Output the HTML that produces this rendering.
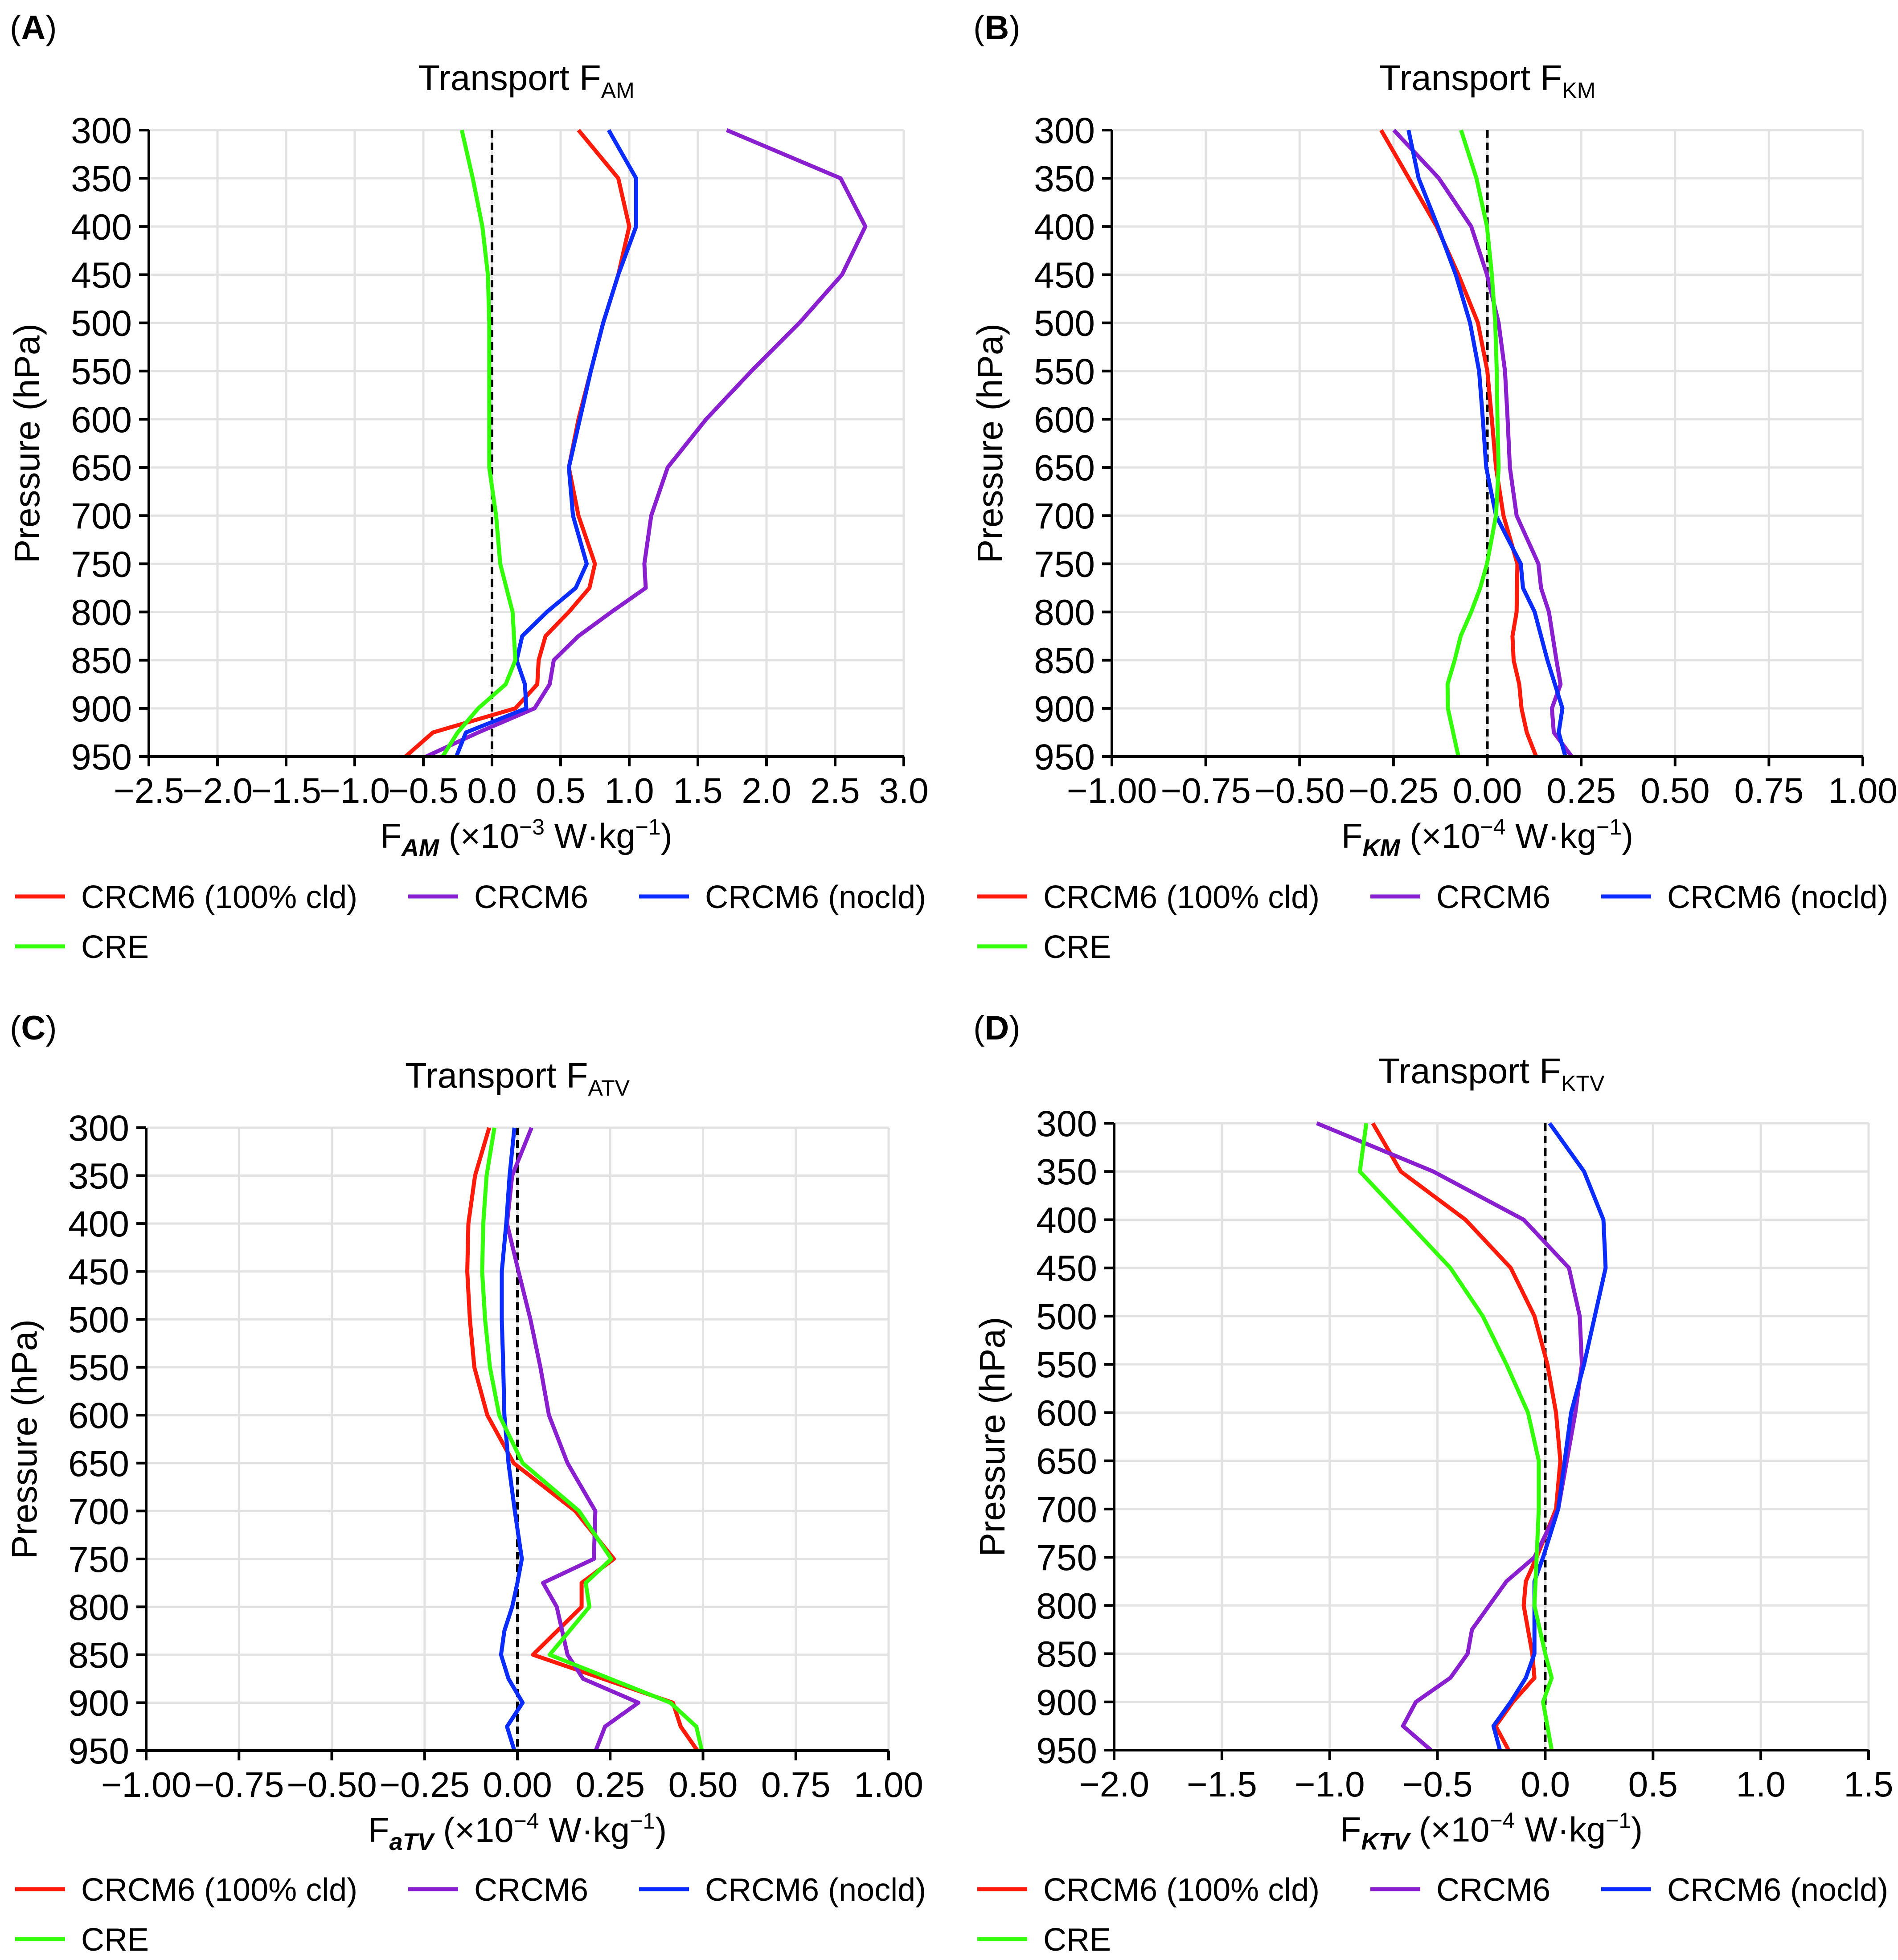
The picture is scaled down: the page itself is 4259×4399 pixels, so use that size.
<!DOCTYPE html>
<html><head><meta charset="utf-8"><title>Transport profiles</title>
<style>
html,body{margin:0;padding:0;background:#fff;}
svg{display:block;font-family:"Liberation Sans",Arial,sans-serif;}
</style></head>
<body>
<svg id="fig" width="4259" height="4399" viewBox="0 0 4259 4399" xmlns="http://www.w3.org/2000/svg"></svg>
<script>
// ---------- data ----------
const pressureTicks = [300,350,400,450,500,550,600,650,700,750,800,850,900,950];
// Panel A (x10^-3)
const aTicks = [-2.5,-2.0,-1.5,-1.0,-0.5,0.0,0.5,1.0,1.5,2.0,2.5,3.0];
const aRedP = [300,350,400,450,500,550,600,650,700,750,775,800,825,850,875,900,925,950];
const aRedV = [0.63,0.92,1.0,0.92,0.81,0.72,0.63,0.56,0.63,0.75,0.71,0.56,0.39,0.34,0.33,0.17,-0.43,-0.63];
const aBlueP = [300,350,400,450,500,550,600,650,700,750,775,800,825,850,875,900,925,950];
const aBlueV = [0.85,1.05,1.05,0.92,0.81,0.72,0.64,0.56,0.59,0.69,0.61,0.40,0.22,0.18,0.24,0.25,-0.19,-0.26];
const aPurpleP = [300,350,400,450,500,550,600,650,700,750,775,800,825,850,875,900,925,950];
const aPurpleV = [1.71,2.54,2.72,2.55,2.24,1.89,1.56,1.28,1.16,1.11,1.12,0.87,0.63,0.45,0.42,0.31,-0.1,-0.48];
const aGreenP = [300,350,400,450,500,550,600,650,700,750,800,850,875,900,925,950];
const aGreenV = [-0.22,-0.14,-0.07,-0.03,-0.02,-0.02,-0.02,-0.02,0.03,0.06,0.15,0.17,0.10,-0.10,-0.25,-0.36];
// Panel B (x10^-4)
const bTicks = [-1.0,-0.75,-0.5,-0.25,0.0,0.25,0.5,0.75,1.0];
const bRedP = [300,400,450,500,550,600,650,700,750,800,825,850,875,900,925,950];
const bRedV = [-0.283,-0.135,-0.077,-0.025,0.0,0.012,0.023,0.043,0.08,0.078,0.067,0.07,0.085,0.091,0.105,0.13];
const bBlueP = [300,350,400,450,500,550,600,650,700,750,775,800,850,900,925,950];
const bBlueV = [-0.21,-0.183,-0.132,-0.084,-0.046,-0.022,-0.012,-0.003,0.023,0.089,0.095,0.126,0.16,0.2,0.19,0.208];
const bPurpleP = [300,350,400,450,500,550,600,650,700,750,775,800,850,875,900,925,950];
const bPurpleV = [-0.249,-0.129,-0.043,-0.001,0.03,0.047,0.054,0.06,0.078,0.136,0.143,0.164,0.184,0.195,0.172,0.177,0.225];
const bGreenP = [300,350,400,450,500,550,600,650,700,750,775,800,825,850,875,900,925,950];
const bGreenV = [-0.07,-0.029,-0.001,0.012,0.021,0.025,0.027,0.03,0.023,-0.001,-0.019,-0.043,-0.071,-0.087,-0.106,-0.105,-0.091,-0.077];
// Panel C (x10^-4)
const cTicks = [-1.0,-0.75,-0.5,-0.25,0.0,0.25,0.5,0.75,1.0];
const cRedP = [300,350,400,450,500,550,600,650,700,750,775,800,850,900,925,950];
const cRedV = [-0.076,-0.114,-0.132,-0.135,-0.128,-0.116,-0.081,-0.01,0.156,0.26,0.173,0.173,0.042,0.419,0.44,0.485];
const cGreenP = [300,350,400,450,500,550,600,650,700,750,775,800,850,900,925,950];
const cGreenV = [-0.062,-0.083,-0.092,-0.095,-0.087,-0.074,-0.049,0.014,0.166,0.253,0.184,0.194,0.087,0.412,0.482,0.497];
const cBlueP = [300,350,400,450,500,550,600,650,700,750,775,800,825,850,875,900,925,950];
const cBlueV = [-0.008,-0.021,-0.03,-0.042,-0.042,-0.038,-0.035,-0.024,-0.007,0.012,0.0,-0.014,-0.035,-0.044,-0.024,0.014,-0.028,-0.008];
const cPurpleP = [300,350,400,450,500,550,600,650,700,750,775,800,850,875,900,925,950];
const cPurpleV = [0.038,-0.014,-0.028,0.003,0.035,0.062,0.085,0.135,0.21,0.206,0.069,0.106,0.135,0.177,0.326,0.236,0.211];
// Panel D (x10^-4)
const dTicks = [-2.0,-1.5,-1.0,-0.5,0.0,0.5,1.0,1.5];
const dRedP = [300,350,400,450,500,550,600,650,700,750,775,800,850,875,900,925,950];
const dRedV = [-0.80,-0.67,-0.37,-0.16,-0.05,0.01,0.05,0.07,0.05,-0.04,-0.09,-0.10,-0.06,-0.05,-0.15,-0.23,-0.17];
const dPurpleP = [300,350,400,450,500,550,600,650,700,750,775,800,825,850,875,900,925,950];
const dPurpleV = [-1.06,-0.52,-0.10,0.11,0.16,0.17,0.14,0.10,0.06,-0.05,-0.18,-0.26,-0.34,-0.36,-0.44,-0.60,-0.66,-0.53];
const dBlueP = [300,350,400,450,500,550,600,650,700,750,775,800,850,875,900,925,950];
const dBlueV = [0.02,0.18,0.27,0.28,0.23,0.18,0.12,0.09,0.06,-0.01,-0.05,-0.05,-0.05,-0.09,-0.16,-0.24,-0.21];
const dGreenP = [300,350,400,450,500,550,600,650,700,750,800,850,875,900,950];
const dGreenV = [-0.83,-0.86,-0.65,-0.44,-0.29,-0.18,-0.08,-0.03,-0.03,-0.04,-0.05,0.0,0.03,-0.01,0.03];

// ---------- drawing ----------
const NS = "http://www.w3.org/2000/svg";
const svg = document.getElementById('fig');
function mk(tag, attrs, parent){
  const e = document.createElementNS(NS, tag);
  for (const k in attrs) e.setAttribute(k, attrs[k]);
  (parent||svg).appendChild(e);
  return e;
}
const COLORS = {red:'#ff1a0a', purple:'#8a1fd0', blue:'#0a2cff', green:'#33ff0a'};
function fmt(v, dec){ const s = Math.abs(v).toFixed(dec); return (v<0?'\u2212':'')+s; }

function panel(cfg){
  const g = mk('g', {});
  
  
  const {L,R,T,B,xmin,xmax} = cfg;
  const X = v => L + (v - xmin)/(xmax - xmin)*(R - L);
  const Y = p => T + (p - 300)/(950 - 300)*(B - T);
  cfg.ticks.forEach(t=>{
    const l = mk('line',{x1:X(t),x2:X(t),y1:T,y2:B,stroke:'#e2e2e2','stroke-width':5},g);
    
    
  });
  pressureTicks.forEach(p=>{
    const l = mk('line',{x1:L,x2:R,y1:Y(p),y2:Y(p),stroke:'#e2e2e2','stroke-width':5},g);
    
    
  });
  const z = mk('line',{x1:X(0),x2:X(0),y1:T,y2:B,stroke:'#000','stroke-width':6,'stroke-dasharray':'17,11'},g);
  
  
  cfg.series.forEach(s=>{
    const pts = s.p.map((p,i)=>X(s.v[i]).toFixed(1)+','+Y(p).toFixed(1)).join(' ');
    const pl = mk('polyline',{points:pts,fill:'none',stroke:COLORS[s.c],'stroke-width':9,'stroke-linejoin':'round'},g);
    
    
  });
  const ax = mk('path',{d:`M${L},${T} L${L},${B} L${R},${B}`,fill:'none',stroke:'#000','stroke-width':6},g);
  
  
  cfg.ticks.forEach(t=>{
    mk('line',{x1:X(t),x2:X(t),y1:B,y2:B+22,stroke:'#000','stroke-width':6},g);
    const tx = mk('text',{x:X(t),y:B+104,'font-size':80,'text-anchor':'middle',fill:'#000'},g);
    tx.textContent = fmt(t, cfg.dec);
    
    
  });
  pressureTicks.forEach(p=>{
    mk('line',{x1:L-22,x2:L,y1:Y(p),y2:Y(p),stroke:'#000','stroke-width':6},g);
    const tx = mk('text',{x:L-38,y:Y(p)+29,'font-size':82,'text-anchor':'end',fill:'#000'},g);
    tx.textContent = String(p);
    
    
  });
  const cx = (L+R)/2;
  const tt = mk('text',{x:cx,y:T-90,'font-size':80,'text-anchor':'middle',fill:'#000'},g);
  tt.innerHTML = 'Transport F<tspan font-size="50" dy="18">'+cfg.sub+'</tspan>';
  
  
  const xl = mk('text',{x:cx,y:B+205,'font-size':78,'text-anchor':'middle',fill:'#000'},g);
  xl.innerHTML = 'F<tspan font-size="54" dy="18" font-style="italic" font-weight="bold">'+cfg.xsub+'</tspan><tspan dy="-18"> (×10</tspan><tspan font-size="50" dy="-30">−'+cfg.exp+'</tspan><tspan dy="30"> W·kg</tspan><tspan font-size="50" dy="-30">−1</tspan><tspan dy="30">)</tspan>';
  
  
  const yx = L - 246, yy = (T+B)/2;
  const yl = mk('text',{x:yx,y:yy,'font-size':80,'text-anchor':'middle',fill:'#000',transform:`rotate(-90 ${yx} ${yy})`},g);
  yl.textContent = 'Pressure (hPa)';
  
  
  const pl = mk('text',{x:cfg.lx,y:cfg.ly,'font-size':76,fill:'#000'},g);
  pl.innerHTML = '(<tspan font-weight="bold">'+cfg.id.toUpperCase()+'</tspan>)';
  
  
  const leg = [
    {c:'red',t:'CRCM6 (100% cld)',dx:0,row:0},
    {c:'purple',t:'CRCM6',dx:882,row:0},
    {c:'blue',t:'CRCM6 (nocld)',dx:1400,row:0},
    {c:'green',t:'CRE',dx:0,row:1}];
  leg.forEach(e=>{
    const y = cfg.legY + e.row*112;
    const lg = mk('g',{},g);
    
    
    mk('line',{x1:cfg.legX+e.dx,x2:cfg.legX+e.dx+112,y1:y,y2:y,stroke:COLORS[e.c],'stroke-width':9},lg);
    const t = mk('text',{x:cfg.legX+e.dx+148,y:y+26,'font-size':72,fill:'#000'},lg);
    t.textContent = e.t;
  });
}

panel({id:'a',L:334,R:2028,T:292,B:1698,xmin:-2.5,xmax:3.0,ticks:aTicks,dec:1,sub:'AM',xsub:'AM',exp:'3',lx:22,ly:88,legX:34,legY:2012,
  series:[{name:'crcm6-100cld',c:'red',p:aRedP,v:aRedV},{name:'crcm6',c:'purple',p:aPurpleP,v:aPurpleV},{name:'crcm6-nocld',c:'blue',p:aBlueP,v:aBlueV},{name:'cre',c:'green',p:aGreenP,v:aGreenV}]});
panel({id:'b',L:2495,R:4180,T:292,B:1698,xmin:-1,xmax:1,ticks:bTicks,dec:2,sub:'KM',xsub:'KM',exp:'4',lx:2184,ly:88,legX:2193,legY:2012,
  series:[{name:'crcm6-100cld',c:'red',p:bRedP,v:bRedV},{name:'crcm6',c:'purple',p:bPurpleP,v:bPurpleV},{name:'crcm6-nocld',c:'blue',p:bBlueP,v:bBlueV},{name:'cre',c:'green',p:bGreenP,v:bGreenV}]});
panel({id:'c',L:328,R:1994,T:2531,B:3929,xmin:-1,xmax:1,ticks:cTicks,dec:2,sub:'ATV',xsub:'aTV',exp:'4',lx:22,ly:2333,legX:34,legY:4240,
  series:[{name:'crcm6-100cld',c:'red',p:cRedP,v:cRedV},{name:'crcm6',c:'purple',p:cPurpleP,v:cPurpleV},{name:'crcm6-nocld',c:'blue',p:cBlueP,v:cBlueV},{name:'cre',c:'green',p:cGreenP,v:cGreenV}]});
panel({id:'d',L:2500,R:4193,T:2521,B:3928,xmin:-2,xmax:1.5,ticks:dTicks,dec:1,sub:'KTV',xsub:'KTV',exp:'4',lx:2184,ly:2333,legX:2193,legY:4240,
  series:[{name:'crcm6-100cld',c:'red',p:dRedP,v:dRedV},{name:'crcm6',c:'purple',p:dPurpleP,v:dPurpleV},{name:'crcm6-nocld',c:'blue',p:dBlueP,v:dBlueV},{name:'cre',c:'green',p:dGreenP,v:dGreenV}]});
</script>
</body></html>
